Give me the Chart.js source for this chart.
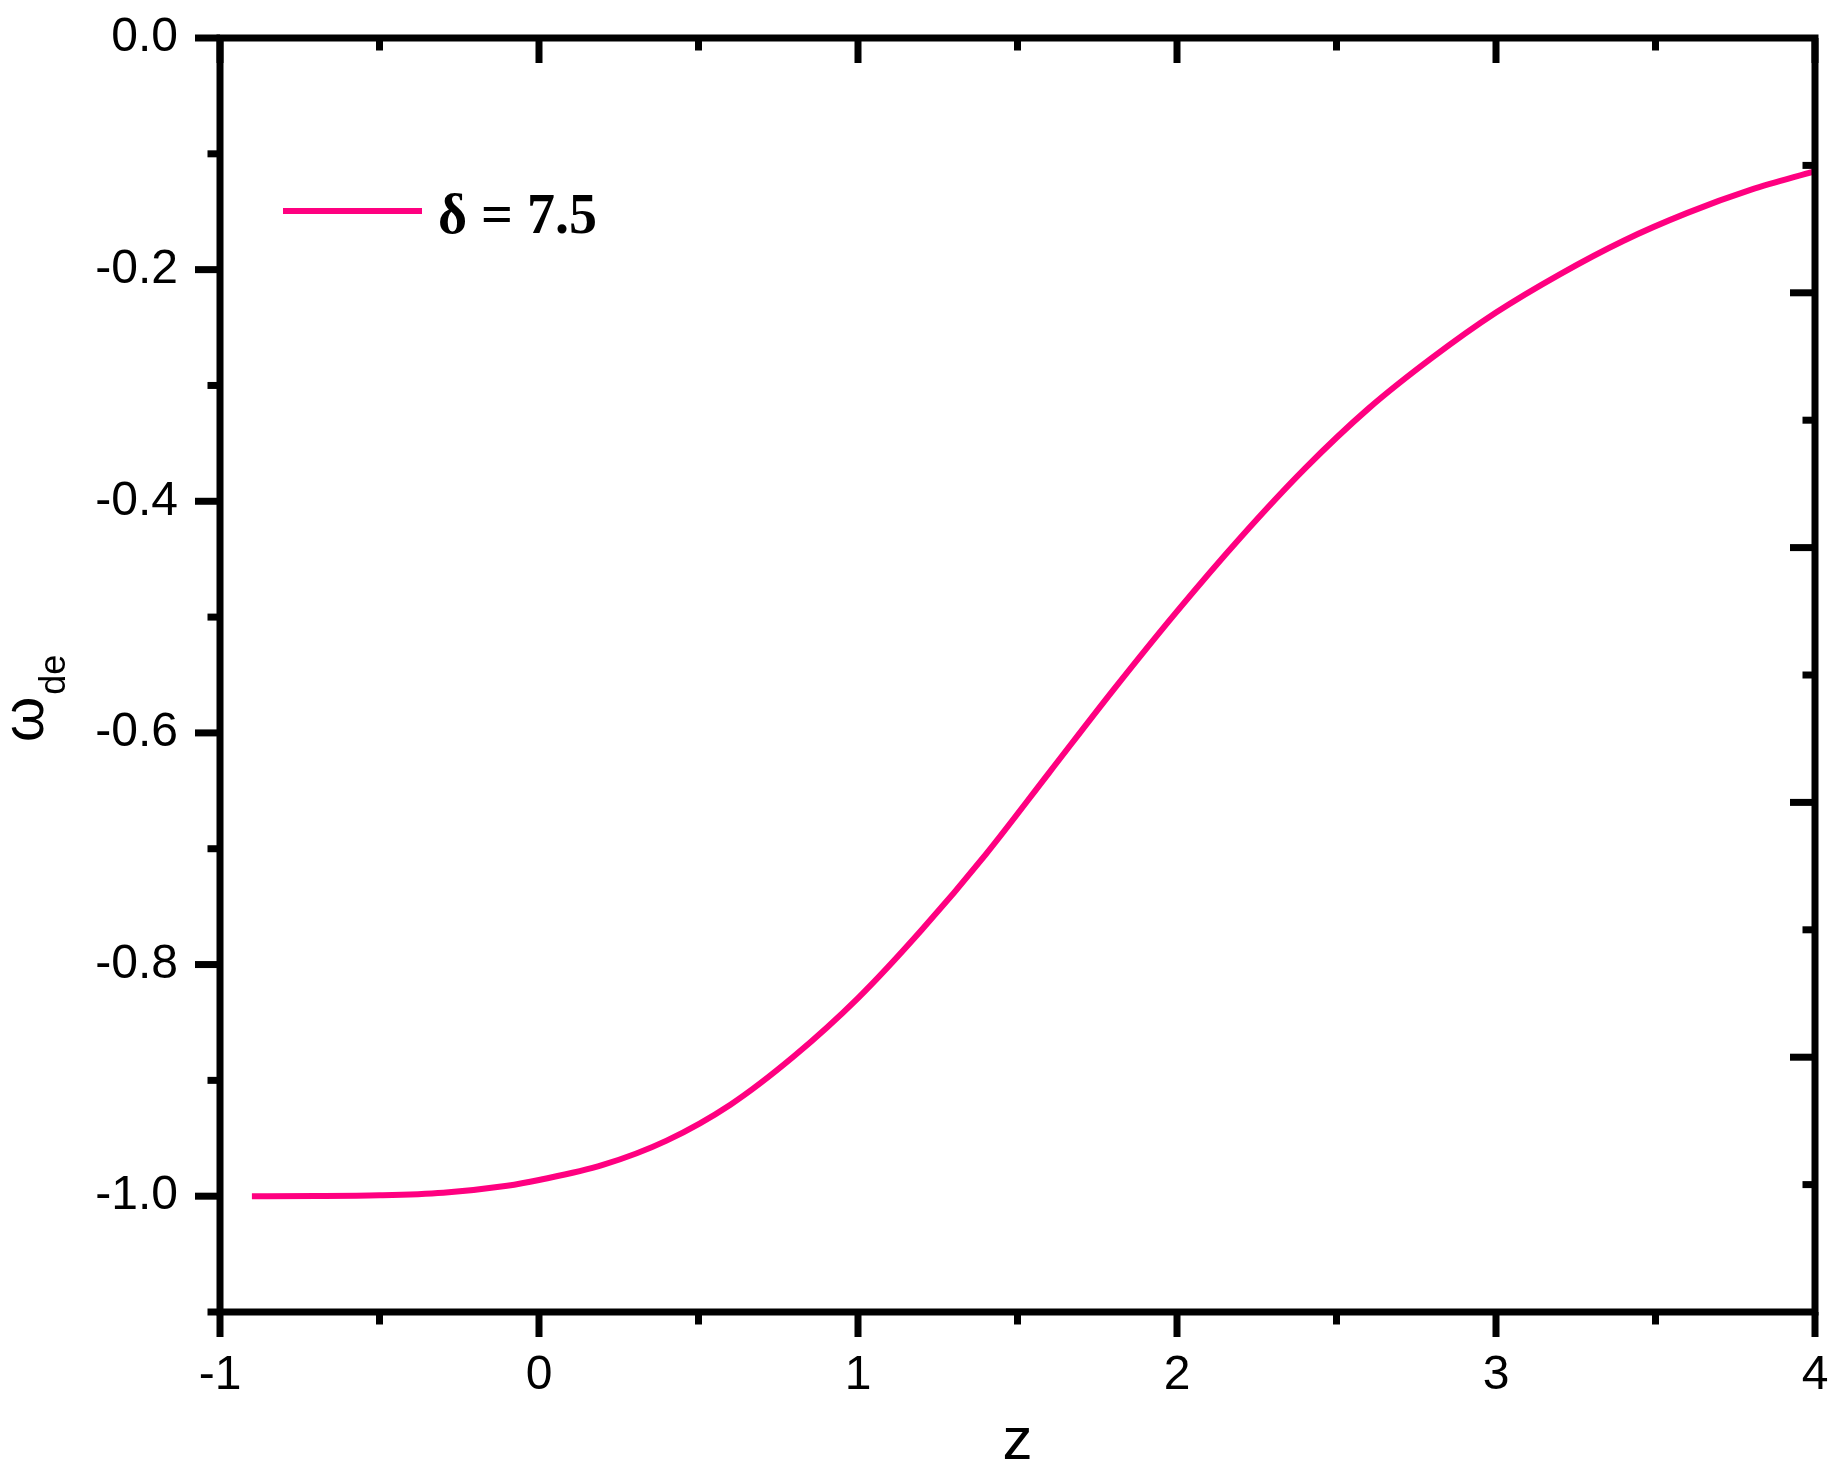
<!DOCTYPE html>
<html>
<head>
<meta charset="utf-8">
<script src="https://cdn.jsdelivr.net/npm/chart.js@4.4.0/dist/chart.umd.min.js"></script>
<style>
  html, body { margin: 0; padding: 0; background: #fff; }
  #wrap { width: 1848px; height: 1472px; }
</style>
</head>
<body>
<div id="wrap"><canvas id="chart" width="1848" height="1472"></canvas></div>
<script>
// data
const zValues = [-0.9, -0.7, -0.5, -0.3, -0.1, 0.0, 0.2, 0.4, 0.6, 0.8, 1.0, 1.2, 1.4, 1.6, 1.8, 2.0, 2.2, 2.4, 2.6, 2.8, 3.0, 3.2, 3.4, 3.6, 3.8, 4.0];
const wValues = [-1.0, -0.9999, -0.9993, -0.997, -0.991, -0.986, -0.973, -0.952, -0.921, -0.879, -0.829, -0.770, -0.705, -0.634, -0.563, -0.495, -0.431, -0.372, -0.320, -0.276, -0.237, -0.204, -0.175, -0.151, -0.131, -0.115];
const seriesLabel = 'δ = 7.5';

// axes
const xTicks = [-1, 0, 1, 2, 3, 4];
const xMinorTicks = [-0.5, 0.5, 1.5, 2.5, 3.5];
const yTicks = [0, -0.2, -0.4, -0.6, -0.8, -1.0];
const yMinorTicks = [-0.1, -0.3, -0.5, -0.7, -0.9, -1.1];
const rightTicks = [1, 2, 3, 4];
const rightMinorTicks = [0.5, 1.5, 2.5, 3.5, 4.5];

const lineColor = '#FF0080';
const sans = '"Liberation Sans", Arial, sans-serif';

// frame, tick marks, y title and legend
const framePlugin = {
	id: 'frame',
	afterDatasetsDraw(chart) {
		const { ctx, chartArea: a, scales } = chart;
		const major = 25, minor = 12.5;
		ctx.save();
		ctx.strokeStyle = '#000';
		ctx.lineWidth = 7;
		ctx.lineCap = 'butt';
		ctx.strokeRect(a.left, a.top, a.right - a.left, a.bottom - a.top);

		const tick = (x1, y1, x2, y2) => {
			ctx.beginPath();
			ctx.moveTo(x1, y1);
			ctx.lineTo(x2, y2);
			ctx.stroke();
		};
		xTicks.forEach(v => {
			const p = scales.x.getPixelForValue(v);
			tick(p, a.bottom, p, a.bottom + major);
			tick(p, a.top, p, a.top + major);
		});
		xMinorTicks.forEach(v => {
			const p = scales.x.getPixelForValue(v);
			tick(p, a.bottom, p, a.bottom + minor);
			tick(p, a.top, p, a.top + minor);
		});
		yTicks.forEach(v => {
			const p = scales.y.getPixelForValue(v);
			tick(a.left, p, a.left - major, p);
		});
		yMinorTicks.forEach(v => {
			const p = scales.y.getPixelForValue(v);
			tick(a.left, p, a.left - minor, p);
		});
		rightTicks.forEach(v => {
			const p = scales.y2.getPixelForValue(v);
			tick(a.right, p, a.right - major, p);
		});
		rightMinorTicks.forEach(v => {
			const p = scales.y2.getPixelForValue(v);
			tick(a.right, p, a.right - minor, p);
		});

		// y title: omega with subscript, rotated
		ctx.fillStyle = '#000';
		ctx.translate(43, 742);
		ctx.rotate(-Math.PI / 2);
		ctx.textBaseline = 'alphabetic';
		ctx.textAlign = 'left';
		ctx.font = '58px ' + sans;
		ctx.fillText('ω', 0, 0);
		const w = ctx.measureText('ω').width;
		ctx.font = '36px ' + sans;
		ctx.fillText('de', w + 2, 22);
		ctx.restore();

		// legend
		const ds = chart.data.datasets[0];
		ctx.save();
		ctx.strokeStyle = ds.borderColor;
		ctx.lineWidth = 6;
		tick(283, 211, 422, 211);
		ctx.fillStyle = '#000';
		ctx.font = 'bold 56px "Liberation Serif", "Times New Roman", serif';
		ctx.textBaseline = 'alphabetic';
		ctx.fillText(ds.label, 438, 233);
		ctx.restore();
	}
};

const ctx = document.getElementById('chart');

new Chart(ctx, {
	type: 'line',
	data: {
		datasets: [{
			label: seriesLabel,
			data: zValues.map((z, i) => ({ x: z, y: wValues[i] })),
			borderColor: lineColor,
			borderWidth: 6,
			pointRadius: 0,
			cubicInterpolationMode: 'monotone',
			fill: false
		}]
	},
	options: {
		responsive: false,
		animation: false,
		layout: {
			padding: { left: 0, right: 33, top: 38, bottom: 0 }
		},
		scales: {
			x: {
				type: 'linear',
				min: -1,
				max: 4,
				afterFit: s => { s.height = 160; s.paddingLeft = 0; s.paddingRight = 0; },
				afterBuildTicks: s => { s.ticks = xTicks.map(v => ({ value: v })); },
				grid: { display: false, drawTicks: false },
				border: { display: false },
				ticks: {
					padding: 40,
					color: '#000',
					font: { family: sans, size: 48, lineHeight: 1 },
					maxRotation: 0,
					callback: v => String(v)
				},
				title: {
					display: true,
					text: 'z',
					color: '#000',
					font: { family: sans, size: 60, lineHeight: 1 },
					padding: 0
				}
			},
			y: {
				type: 'linear',
				min: -1.1,
				max: 0,
				afterFit: s => { s.width = 220; s.paddingTop = 0; s.paddingBottom = 0; },
				afterBuildTicks: s => { s.ticks = yTicks.map(v => ({ value: v })); },
				grid: { display: false, drawTicks: false },
				border: { display: false },
				ticks: {
					padding: 42,
					color: '#000',
					font: { family: sans, size: 48, lineHeight: 1 },
					callback: v => v.toFixed(1)
				}
			},
			y2: {
				type: 'linear',
				position: 'right',
				min: 0,
				max: 5,
				display: false
			}
		},
		plugins: {
			legend: { display: false },
			tooltip: { enabled: false }
		}
	},
	plugins: [framePlugin]
});
</script>
</body>
</html>
